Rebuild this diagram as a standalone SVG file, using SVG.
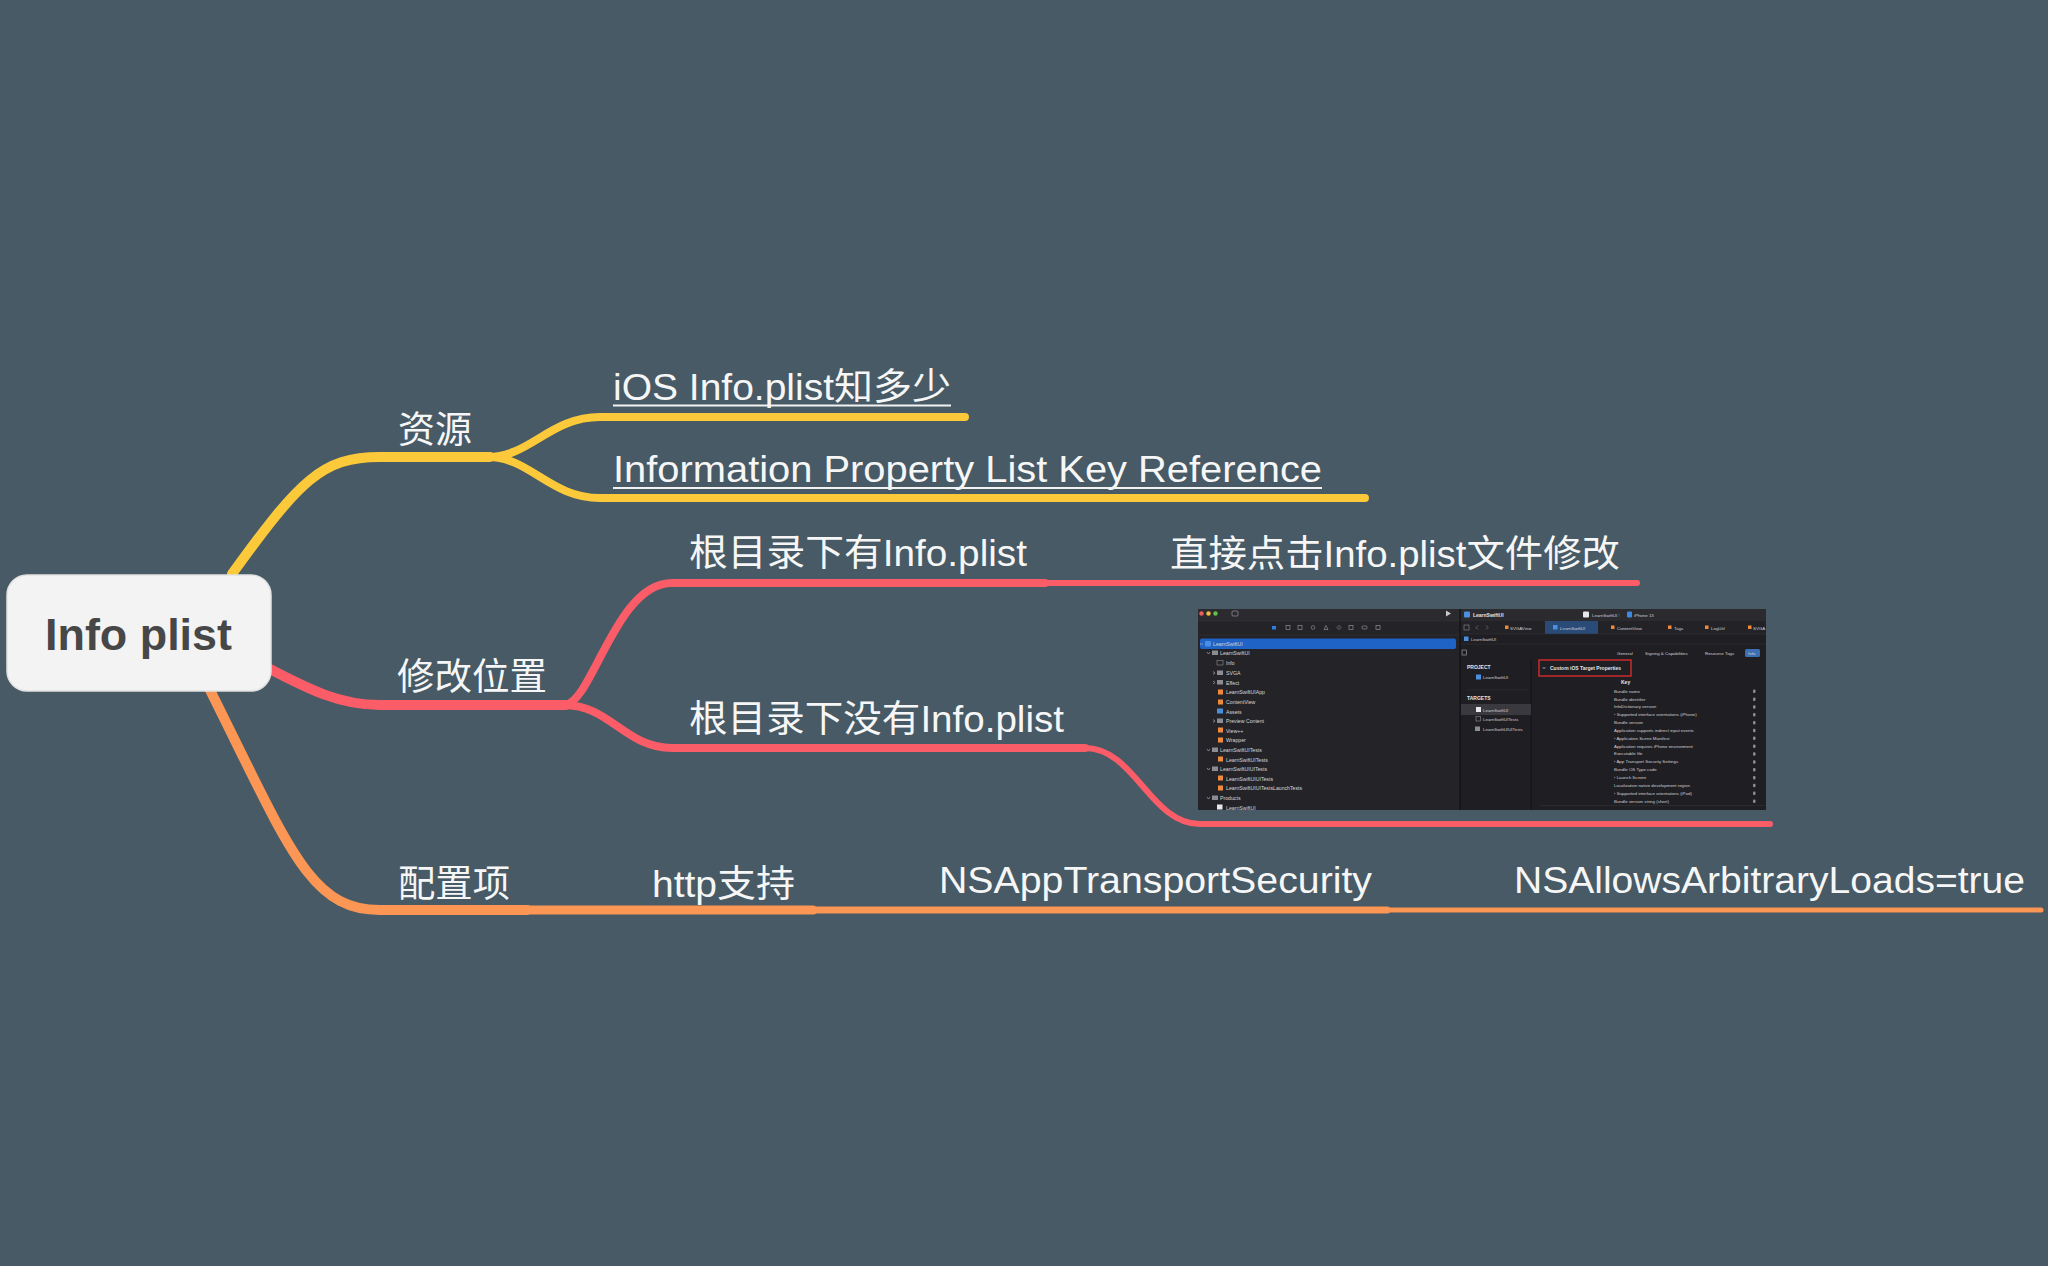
<svg xmlns="http://www.w3.org/2000/svg" width="2048" height="1266" viewBox="0 0 2048 1266">
<defs>
<style>
.bg{fill:#475a65}
.lbl{font-family:"Liberation Sans","Noto Sans CJK SC",sans-serif;font-size:37px;fill:#f6f6f6}
.root{font-family:"Liberation Sans","Noto Sans CJK SC",sans-serif;font-size:45px;font-weight:bold;fill:#474747}
.c{fill:none;stroke-linecap:round;stroke-linejoin:round}
.y{stroke:#fcc93a}
.r{stroke:#fa5d68}
.o{stroke:#fc9654}
.ul{stroke:#f2f2f2;stroke-width:2}
.ss{font-family:"Liberation Sans",sans-serif;font-size:5.2px;fill:#d6d6d8}
.sb{font-family:"Liberation Sans",sans-serif;font-size:5px;font-weight:bold;fill:#e4e4e6}
.sp{font-family:"Liberation Sans",sans-serif;font-size:4.4px;fill:#cfcfd2}
.fold{fill:#8c8c92}
.sw{fill:#ef8a3c}
</style>
</defs>
<rect class="bg" x="0" y="0" width="2048" height="1266"/>

<g id="connectors">
  <!-- yellow branch -->
  <path class="c y" stroke-width="10" d="M232,574 C300,480 322,457 380,457 L490,457"/>
  <path class="c y" stroke-width="8" d="M488,457 C530,457 550,417 600,417 L965,417"/>
  <path class="c y" stroke-width="8" d="M488,457 C530,457 550,498 600,498 L1365,498"/>
  <!-- red branch -->
  <path class="c r" stroke-width="10" d="M266,667 C310,690 340,705 380,705 L566,705"/>
  <path class="c r" stroke-width="8" d="M564,705 C592,705 615,583 672,583 L1045,583"/>
  <path class="c r" stroke-width="6" d="M1045,583 L1637,583"/>
  <path class="c r" stroke-width="8" d="M564,705 C610,705 625,748 672,748 L1085,748"/>
  <path class="c r" stroke-width="6" d="M1085,748 C1135,748 1150,824 1200,824 L1770,824"/>
  <!-- orange branch -->
  <path class="c o" stroke-width="10" d="M210,690 C290,850 310,910 380,910 L527,910"/>
  <path class="c o" stroke-width="9" d="M527,910 L813,910"/>
  <path class="c o" stroke-width="7" d="M813,910 L1387,910"/>
  <path class="c o" stroke-width="5" d="M1387,910 L2041,910"/>
</g>

<g id="node-root">
  <rect x="7" y="575" width="264" height="116" rx="20" fill="#f3f3f3" stroke="#e2e2e2" stroke-width="1.5"/>
  <text class="root" x="45" y="650" textLength="187" lengthAdjust="spacingAndGlyphs">Info plist</text>
</g>

<g id="node-ziyuan">
  <text class="lbl" x="398" y="443" textLength="74" lengthAdjust="spacingAndGlyphs">资源</text>
</g>
<g id="node-ios-info">
  <text class="lbl" x="613" y="400" textLength="338" lengthAdjust="spacingAndGlyphs">iOS Info.plist知多少</text>
  <line class="ul" x1="613" y1="405.5" x2="951" y2="405.5"/>
</g>
<g id="node-info-ref">
  <text class="lbl" x="613" y="482" textLength="709" lengthAdjust="spacingAndGlyphs">Information Property List Key Reference</text>
  <line class="ul" x1="613" y1="488" x2="1322" y2="488"/>
</g>

<g id="node-xiugai">
  <text class="lbl" x="397" y="690" textLength="150" lengthAdjust="spacingAndGlyphs">修改位置</text>
</g>
<g id="node-you">
  <text class="lbl" x="689" y="566" textLength="338" lengthAdjust="spacingAndGlyphs">根目录下有Info.plist</text>
</g>
<g id="node-zhijie">
  <text class="lbl" x="1170" y="567" textLength="450" lengthAdjust="spacingAndGlyphs">直接点击Info.plist文件修改</text>
</g>
<g id="node-meiyou">
  <text class="lbl" x="689" y="732" textLength="375" lengthAdjust="spacingAndGlyphs">根目录下没有Info.plist</text>
</g>

<g id="node-screenshot">
  <rect x="1198" y="609" width="568" height="201" fill="#1f1e23"/>
  <!-- navigator -->
  <rect x="1198" y="609" width="262" height="201" fill="#242328"/>
  <rect x="1198" y="609" width="262" height="12" fill="#2b2a2f"/>
  <circle cx="1201.5" cy="613.5" r="2.2" fill="#ec5f58"/>
  <circle cx="1208.5" cy="613.5" r="2.2" fill="#f2bd3e"/>
  <circle cx="1215.5" cy="613.5" r="2.2" fill="#5ec24a"/>
  <rect x="1232" y="611" width="6" height="5" rx="1" fill="none" stroke="#8c8c92" stroke-width="0.8"/>
  <path d="M1446,610.5 L1451,613.5 L1446,616.5 Z" fill="#c9c9cc"/>
  <line x1="1198" y1="621" x2="1460" y2="621" stroke="#333237" stroke-width="0.6"/>
  <rect x="1272" y="626" width="4" height="3.5" fill="#2f7de1"/>
  <g fill="none" stroke="#8c8c92" stroke-width="0.7">
    <rect x="1286" y="625.5" width="4" height="4"/>
    <rect x="1298" y="625.5" width="4" height="4"/>
    <circle cx="1313" cy="627.5" r="1.8"/>
    <path d="M1324,629.5 L1326,625.5 L1328,629.5 Z"/>
    <path d="M1337,627.5 L1339,625.5 L1341,627.5 L1339,629.5 Z"/>
    <rect x="1349" y="625.5" width="4" height="4"/>
    <rect x="1362" y="626" width="5" height="3" rx="1"/>
    <rect x="1376" y="625.5" width="4" height="4"/>
  </g>
  <line x1="1198" y1="635" x2="1460" y2="635" stroke="#333237" stroke-width="0.6"/>
  <rect x="1200" y="638.5" width="256" height="10.5" rx="2" fill="#1f63c6"/>
  <g fill="none" stroke="#a8a8ad" stroke-width="0.7">
    <path d="M1200,643 L1201.5,645 L1203,643"/>
    <path d="M1207,652 L1208.5,654 L1210,652"/>
    <path d="M1213,671.5 L1215,673 L1213,674.5"/>
    <path d="M1213,681 L1215,682.5 L1213,684"/>
    <path d="M1213,719.5 L1215,721 L1213,722.5"/>
    <path d="M1207,749 L1208.5,751 L1210,749"/>
    <path d="M1207,768 L1208.5,770 L1210,768"/>
    <path d="M1207,797 L1208.5,799 L1210,797"/>
  </g>
  <rect x="1205" y="641" width="6" height="5.5" rx="1" fill="#4a8fe0"/>
  <rect x="1212" y="650.5" width="6" height="4.5" class="fold"/>
  <rect x="1217" y="660.5" width="6" height="4.5" fill="none" stroke="#8c8c92" stroke-width="0.6"/>
  <rect x="1217" y="670.5" width="6" height="4.5" class="fold"/>
  <rect x="1217" y="680" width="6" height="4.5" class="fold"/>
  <rect x="1218" y="689.5" width="5" height="5" class="sw"/>
  <rect x="1218" y="699.5" width="5" height="5" class="sw"/>
  <rect x="1217" y="708.5" width="6" height="5" fill="#4a90d9"/>
  <rect x="1217" y="718.5" width="6" height="4.5" class="fold"/>
  <rect x="1218" y="727.5" width="5" height="5" class="sw"/>
  <rect x="1218" y="737.5" width="5" height="5" class="sw"/>
  <rect x="1212" y="747.5" width="6" height="4.5" class="fold"/>
  <rect x="1218" y="756.5" width="5" height="5" class="sw"/>
  <rect x="1212" y="766.5" width="6" height="4.5" class="fold"/>
  <rect x="1218" y="775.5" width="5" height="5" class="sw"/>
  <rect x="1218" y="785.5" width="5" height="5" class="sw"/>
  <rect x="1212" y="795.5" width="6" height="4.5" class="fold"/>
  <rect x="1217" y="804.5" width="5.5" height="5" fill="#e8e8ea"/>
  <text class="ss" x="1213" y="645.5" fill="#ffffff">LearnSwiftUI</text>
  <text class="ss" x="1220" y="655">LearnSwiftUI</text>
  <text class="ss" x="1226" y="665">Info</text>
  <text class="ss" x="1226" y="675">SVGA</text>
  <text class="ss" x="1226" y="684.5">Effect</text>
  <text class="ss" x="1226" y="694">LearnSwiftUIApp</text>
  <text class="ss" x="1226" y="704">ContentView</text>
  <text class="ss" x="1226" y="713.5">Assets</text>
  <text class="ss" x="1226" y="723">Preview Content</text>
  <text class="ss" x="1226" y="732.5">View++</text>
  <text class="ss" x="1226" y="742">Wrapper</text>
  <text class="ss" x="1220" y="752">LearnSwiftUITests</text>
  <text class="ss" x="1226" y="761.5">LearnSwiftUITests</text>
  <text class="ss" x="1220" y="771">LearnSwiftUIUITests</text>
  <text class="ss" x="1226" y="780.5">LearnSwiftUIUITests</text>
  <text class="ss" x="1226" y="790">LearnSwiftUIUITestsLaunchTests</text>
  <text class="ss" x="1220" y="800">Products</text>
  <text class="ss" x="1226" y="809.5">LearnSwiftUI</text>
  <line x1="1460" y1="609" x2="1460" y2="810" stroke="#0f0f12" stroke-width="1"/>
  <!-- editor area -->
  <rect x="1461" y="609" width="305" height="12" fill="#2b2a2f"/>
  <rect x="1464" y="611.5" width="6" height="6" rx="1" fill="#4a8fe0"/>
  <text class="sb" x="1473" y="617">LearnSwiftUI</text>
  <rect x="1583" y="611.5" width="6" height="6" rx="1" fill="#e8e8ea"/>
  <text class="sp" x="1592" y="616.5">LearnSwiftUI 〉</text>
  <rect x="1627" y="611.5" width="5" height="6" rx="1" fill="#3d8be0"/>
  <text class="sp" x="1634" y="616.5">iPhone 13</text>
  <rect x="1461" y="621" width="305" height="13" fill="#232227"/>
  <rect x="1545" y="621" width="53" height="13" fill="#2a4a77"/>
  <rect x="1464" y="625" width="5" height="5" fill="none" stroke="#8c8c92" stroke-width="0.6"/>
  <path d="M1478,625.5 L1476,627.5 L1478,629.5 M1486,625.5 L1488,627.5 L1486,629.5" fill="none" stroke="#8c8c92" stroke-width="0.6"/>
  <rect x="1505" y="625.5" width="3.5" height="3.5" class="sw"/>
  <text class="sp" x="1510" y="629.5">SVGAView</text>
  <rect x="1553" y="625" width="4.5" height="4.5" fill="#4a8fe0"/>
  <text class="sp" x="1560" y="629.5" font-style="italic">LearnSwiftUI</text>
  <rect x="1611" y="625.5" width="3.5" height="3.5" class="sw"/>
  <text class="sp" x="1617" y="629.5">ContentView</text>
  <rect x="1668" y="625.5" width="3.5" height="3.5" class="sw"/>
  <text class="sp" x="1674" y="629.5">Tags</text>
  <rect x="1705" y="625.5" width="3.5" height="3.5" class="sw"/>
  <text class="sp" x="1711" y="629.5">LogUtil</text>
  <rect x="1748" y="625.5" width="3.5" height="3.5" class="sw"/>
  <text class="sp" x="1753" y="629.5">SVGA</text>
  <line x1="1461" y1="634" x2="1766" y2="634" stroke="#333237" stroke-width="0.6"/>
  <rect x="1464" y="636.5" width="4.5" height="4.5" fill="#4a8fe0"/>
  <text class="sp" x="1471" y="640.5">LearnSwiftUI</text>
  <line x1="1461" y1="644" x2="1766" y2="644" stroke="#333237" stroke-width="0.6"/>
  <rect x="1462" y="650" width="4.5" height="5" fill="none" stroke="#a8a8ad" stroke-width="0.6"/>
  <text class="sp" x="1617" y="654.5">General</text>
  <text class="sp" x="1645" y="654.5">Signing &amp; Capabilities</text>
  <text class="sp" x="1705" y="654.5">Resource Tags</text>
  <rect x="1745" y="649" width="15" height="8" rx="1.5" fill="#3c6fb3"/>
  <text class="sp" x="1748" y="654.5" fill="#ffffff">Info</text>
  <line x1="1531" y1="659" x2="1531" y2="810" stroke="#111114" stroke-width="0.8"/>
  <text class="sb" x="1467" y="668.5" font-size="4.4">PROJECT</text>
  <rect x="1476" y="674.5" width="5" height="5" fill="#4a8fe0"/>
  <text class="sp" x="1483" y="679">LearnSwiftUI</text>
  <line x1="1466" y1="690" x2="1528" y2="690" stroke="#333237" stroke-width="0.6"/>
  <text class="sb" x="1467" y="700" font-size="4.4">TARGETS</text>
  <rect x="1461" y="704" width="70" height="11" fill="#3a393f"/>
  <rect x="1476" y="707" width="5" height="5" fill="#e8e8ea"/>
  <text class="sp" x="1483" y="711.5" fill="#ffffff">LearnSwiftUI</text>
  <rect x="1476" y="716.5" width="4.5" height="4.5" fill="none" stroke="#a8a8ad" stroke-width="0.5"/>
  <text class="sp" x="1483" y="721">LearnSwiftUITests</text>
  <rect x="1475" y="726.5" width="5" height="4.5" fill="#8c8c92"/>
  <text class="sp" x="1483" y="731">LearnSwiftUIUITests</text>
  <rect x="1539" y="660" width="92" height="16" fill="none" stroke="#cc2a2a" stroke-width="1.5"/>
  <path d="M1542.5,667 L1544,668.8 L1545.5,667" fill="none" stroke="#d8d8da" stroke-width="0.6"/>
  <text class="sb" x="1550" y="669.5" font-size="4.4">Custom iOS Target Properties</text>
  <text class="sb" x="1621" y="684" font-size="4.4">Key</text>
  <g>
    <text class="sp" x="1614" y="692.5">Bundle name</text>
    <text class="sp" x="1614" y="700.5">Bundle identifier</text>
    <text class="sp" x="1614" y="708.3">InfoDictionary version</text>
    <text class="sp" x="1614" y="716.2">› Supported interface orientations (iPhone)</text>
    <text class="sp" x="1614" y="724">Bundle version</text>
    <text class="sp" x="1614" y="731.9">Application supports indirect input events</text>
    <text class="sp" x="1614" y="739.7">› Application Scene Manifest</text>
    <text class="sp" x="1614" y="747.6">Application requires iPhone environment</text>
    <text class="sp" x="1614" y="755.4">Executable file</text>
    <text class="sp" x="1614" y="763.3">› App Transport Security Settings</text>
    <text class="sp" x="1614" y="771.2">Bundle OS Type code</text>
    <text class="sp" x="1614" y="779">› Launch Screen</text>
    <text class="sp" x="1614" y="786.9">Localization native development region</text>
    <text class="sp" x="1614" y="794.7">› Supported interface orientations (iPad)</text>
    <text class="sp" x="1614" y="802.6">Bundle version string (short)</text>
  </g>
  <g fill="#8c8c92">
    <rect x="1753" y="689.5" width="2.5" height="3.5" rx="1"/>
    <rect x="1753" y="697.4" width="2.5" height="3.5" rx="1"/>
    <rect x="1753" y="705.2" width="2.5" height="3.5" rx="1"/>
    <rect x="1753" y="713.1" width="2.5" height="3.5" rx="1"/>
    <rect x="1753" y="720.9" width="2.5" height="3.5" rx="1"/>
    <rect x="1753" y="728.8" width="2.5" height="3.5" rx="1"/>
    <rect x="1753" y="736.6" width="2.5" height="3.5" rx="1"/>
    <rect x="1753" y="744.5" width="2.5" height="3.5" rx="1"/>
    <rect x="1753" y="752.3" width="2.5" height="3.5" rx="1"/>
    <rect x="1753" y="760.2" width="2.5" height="3.5" rx="1"/>
    <rect x="1753" y="768.1" width="2.5" height="3.5" rx="1"/>
    <rect x="1753" y="775.9" width="2.5" height="3.5" rx="1"/>
    <rect x="1753" y="783.8" width="2.5" height="3.5" rx="1"/>
    <rect x="1753" y="791.6" width="2.5" height="3.5" rx="1"/>
    <rect x="1753" y="799.5" width="2.5" height="3.5" rx="1"/>
  </g>
  <line x1="1540" y1="805.5" x2="1766" y2="805.5" stroke="#333237" stroke-width="0.6"/>
</g>

<g id="node-peizhi">
  <text class="lbl" x="398" y="897" textLength="112" lengthAdjust="spacingAndGlyphs">配置项</text>
</g>
<g id="node-http">
  <text class="lbl" x="652" y="897" textLength="143" lengthAdjust="spacingAndGlyphs">http支持</text>
</g>
<g id="node-ats">
  <text class="lbl" x="939" y="893" textLength="433" lengthAdjust="spacingAndGlyphs">NSAppTransportSecurity</text>
</g>
<g id="node-arbitrary">
  <text class="lbl" x="1514" y="893" textLength="511" lengthAdjust="spacingAndGlyphs">NSAllowsArbitraryLoads=true</text>
</g>
</svg>
